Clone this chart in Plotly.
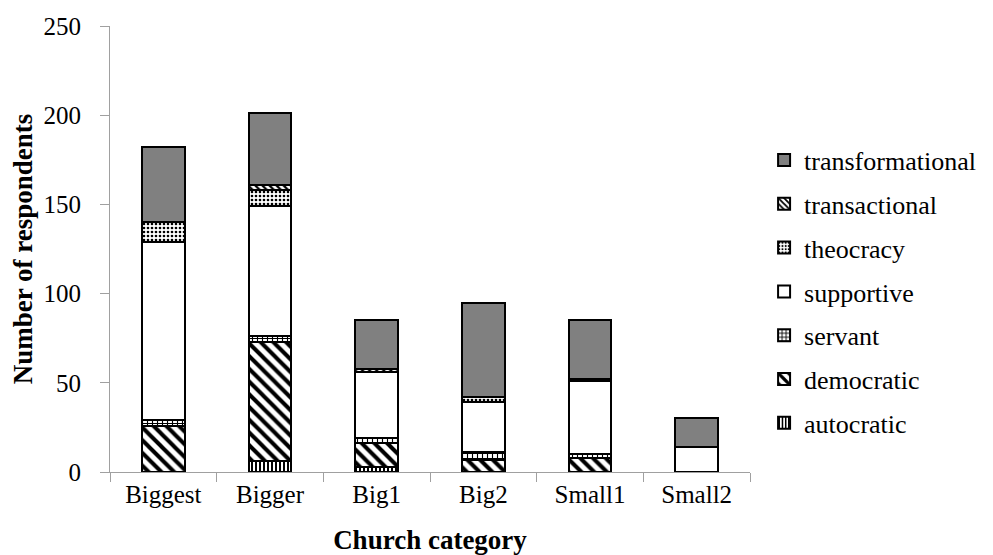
import plotly.graph_objects as go

categories = ["Biggest", "Bigger", "Big1", "Big2", "Small1", "Small2"]
autocratic = [0, 6, 3, 0, 0, 0]
democratic = [26, 67, 13, 7, 8, 0]
servant = [3, 3, 3, 4, 2, 0]
supportive = [100, 73, 37, 28, 41, 14]
theocracy = [11, 9, 0, 3, 0, 0]
transactional = [0, 3, 2, 0, 1, 0]
transformational = [42, 40, 27, 53, 33, 16]

def pat(shape, size, solidity):
    return dict(shape=shape, size=size, solidity=solidity, fgcolor="black",
                bgcolor="white", fgopacity=1, fillmode="overlay")

series = [
    ("autocratic", autocratic, pat("|", 4, 0.5), "white"),
    ("democratic", democratic, pat("\\", 9, 0.45), "white"),
    ("servant", servant, pat("+", 5, 0.4), "white"),
    ("supportive", supportive, None, "white"),
    ("theocracy", theocracy, pat(".", 4, 0.35), "white"),
    ("transactional", transactional, pat("\\", 5, 0.45), "white"),
    ("transformational", transformational, None, "#808080"),
]

FONT = "Liberation Serif"

fig = go.Figure()
n = len(series)
for i, (name, vals, p, color) in enumerate(series):
    marker = dict(color=color, line=dict(color="black", width=2))
    if p:
        marker["pattern"] = p
    fig.add_trace(go.Bar(x=categories, y=vals, name=name,
                         marker=marker, legendgroup=name, legendrank=n - i, width=0.4))

fig.update_layout(
    barmode="stack",
    width=985, height=547,
    margin=dict(l=102, r=241, t=18, b=83),
    paper_bgcolor="white", plot_bgcolor="white",
    font=dict(family=FONT, size=25, color="black"),
    showlegend=True,
    legend=dict(traceorder="grouped", x=1.022, y=0.752, xanchor="left", yanchor="top",
                tracegroupgap=7, font=dict(family=FONT, size=26, color="black"), itemwidth=30),
    xaxis=dict(
        title=dict(text="<b>Church category</b>", font=dict(family=FONT, size=27), standoff=26),
        showline=True, linecolor="#a0a0a0", linewidth=1, automargin=False,
        ticks="outside", tickson="boundaries", ticklen=9, tickcolor="#a0a0a0",
        tickfont=dict(family=FONT, size=25),
    ),
    yaxis=dict(
        title=dict(text="<b>Number of respondents</b>", font=dict(family=FONT, size=27), standoff=8),
        range=[0, 250], dtick=50, automargin=False,
        showline=True, linecolor="#a0a0a0", linewidth=1,
        ticks="outside", ticklen=9, tickcolor="#a0a0a0", ticklabelstandoff=14,
        showgrid=False, zeroline=False, tickfont=dict(family=FONT, size=25),
    ),
)
fig.write_html("out.html")
